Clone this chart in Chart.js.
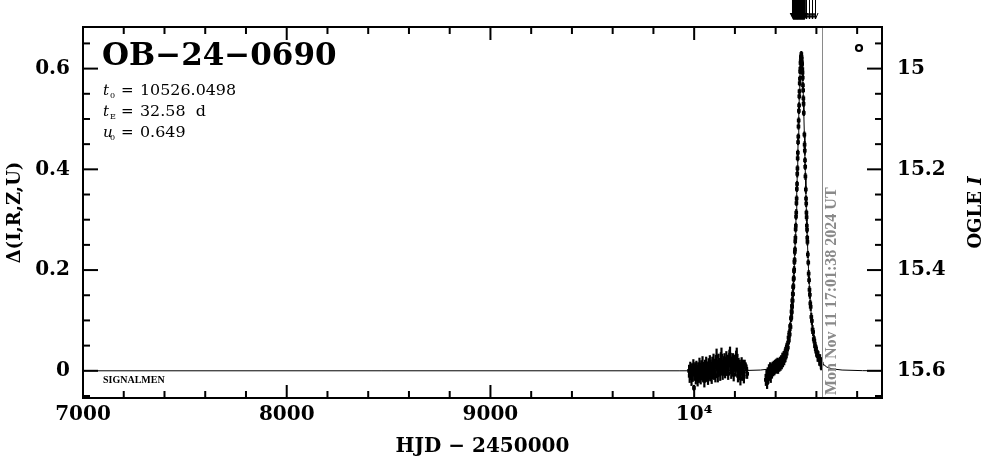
<!DOCTYPE html>
<html><head><meta charset="utf-8">
<script src="https://cdn.jsdelivr.net/npm/chart.js@4.4.1/dist/chart.umd.min.js"></script>
<style>html,body{margin:0;padding:0;background:#fff}#wrap{width:986px;height:459px;position:relative}</style>
</head><body><div id="wrap"><canvas id="c"></canvas></div>
<script>
// ---- axis ticks ----
const xTicks = [7000, 8000, 9000, 10000];
const xTickLabels = ['7000', '8000', '9000', '10\u2074'];
const xMinorTicks = [7200,7400,7600,7800,8200,8400,8600,8800,9200,9400,9600,9800,10200,10400,10600,10800];
const yTicks = [0, 0.2, 0.4, 0.6];
const yTickLabels = ['0', '0.2', '0.4', '0.6'];
const yMinorTicks = [-0.05,0.05,0.1,0.15,0.25,0.3,0.35,0.45,0.5,0.55,0.65];
const magTicks = [15, 15.2, 15.4, 15.6];
const magTickLabels = ['15', '15.2', '15.4', '15.6'];
const magMinorTicks = [14.95,15.05,15.1,15.15,15.25,15.3,15.35,15.45,15.5,15.55,15.65];

// ---- labels ----
const eventName = 'OB\u221224\u22120690';
const paramT0 = '10526.0498';
const paramTE = '32.58';
const paramU0 = '0.649';
const nowLabel = 'Mon Nov 11 17:01:38 2024 UT';
const nowT = 10627;

// ---- season 1 (HJD-2450000, delta, error) ----
const season1T = [9975,9978,9981,9984,9987,9990,9993,9996,9999,10002,
 10005,10008,10011,10014,10017,10020,10023,10026,10029,10032,
 10035,10038,10041,10044,10047,10050,10053,10056,10059,10062,
 10065,10068,10071,10074,10077,10080,10083,10086,10089,10092,
 10095,10098,10101,10104,10107,10110,10113,10116,10119,10122,
 10125,10128,10131,10134,10137,10140,10143,10146,10149,10152,
 10155,10158,10161,10164,10167,10170,10173,10176,10179,10182,
 10185,10188,10191,10194,10197,10200,10203,10206,10209,10212,
 10215,10218,10221,10224,10227,10230,10233,10236,10240,10244,
 10248,10252,10256,10260];
const season1D = [0.000,-0.010,0.006,-0.004,-0.015,0.003,-0.008,0.010,-0.034,-0.006,
 0.004,-0.012,0.008,-0.003,-0.018,0.005,-0.009,0.012,-0.002,-0.014,
 0.007,-0.006,0.014,-0.010,0.002,-0.020,0.010,-0.004,0.015,-0.008,
 0.004,-0.016,0.011,-0.002,0.018,-0.007,0.006,-0.013,0.013,0.000,
 0.020,-0.005,0.009,-0.011,0.016,0.028,0.004,-0.009,0.019,0.002,
 0.012,-0.006,0.022,0.030,0.008,-0.004,0.017,0.005,0.021,-0.002,
 0.014,0.024,0.003,0.018,-0.006,0.012,0.027,0.032,0.010,-0.003,
 0.016,0.006,0.020,-0.008,0.011,0.018,0.002,0.025,0.030,0.008,
 -0.010,0.012,-0.004,0.009,-0.015,0.005,0.014,-0.006,0.010,-0.012,
 0.012,0.008,0.004,-0.006];
const season1E = [0.012,0.014,0.012,0.013,0.015,0.012,0.014,0.013,0.006,0.014,
 0.013,0.015,0.012,0.014,0.013,0.012,0.015,0.014,0.012,0.013,
 0.014,0.013,0.015,0.012,0.014,0.013,0.012,0.015,0.013,0.014,
 0.013,0.012,0.014,0.015,0.013,0.014,0.012,0.013,0.015,0.014,
 0.014,0.013,0.015,0.012,0.014,0.016,0.013,0.014,0.015,0.012,
 0.013,0.014,0.015,0.016,0.013,0.014,0.012,0.015,0.014,0.013,
 0.014,0.015,0.013,0.014,0.012,0.013,0.015,0.016,0.014,0.013,
 0.013,0.014,0.015,0.013,0.012,0.014,0.013,0.015,0.016,0.014,
 0.013,0.014,0.012,0.013,0.014,0.012,0.013,0.014,0.012,0.013,
 0.010,0.009,0.009,0.010];

// ---- season 2 (event) ----
const season2T = [10352,10355,10358,10361,10364,10367,10370,10373,10376,10379,
 10382,10385,10388,10391,10394,10397,10400,10403,10406,10409,
 10412,10415,10418,10421,10424,10427,10430,10433,10436,10439,
 10442,10445,10448,10451,10454,10457,10460,10463,10465,10467,
 10469,10471,10473,10475,10477,10478,10479,10480,10481,10482,
 10483,10484,10485,10486,10487,10488,10489,10490,10491,10492,
 10493,10494,10495,10496,10497,10498,10499,10500,10501,10502,
 10503,10504,10505,10506,10507,10508,10509,10510,10511,10512,
 10513,10514,10515,10516,10517,10518,10519,10520,10521,10522,
 10523,10524,10525,10526,10527,10528,10529,10530,10531,10532,
 10533,10534,10535,10536,10537,10538,10541,10542,10543,10544,
 10545,10546,10548,10549,10550,10551,10552,10553,10554,10555,
 10556,10558,10560,10562,10564,10566,10568,10570,10572,10575,
 10578,10581,10584,10587,10590,10593,10596,10599,10602,10606,
 10610,10614,10618,10622,10624,10626];
const season2D = [-0.018,-0.010,-0.024,-0.004,-0.014,0.002,-0.008,0.006,-0.012,0.004,
 -0.004,0.008,0.000,0.010,0.002,0.012,0.004,0.014,0.006,0.016,
 0.004,0.016,0.008,0.019,0.010,0.022,0.012,0.026,0.016,0.030,
 0.020,0.036,0.026,0.044,0.034,0.052,0.046,0.066,0.060,0.076,
 0.072,0.089,0.087,0.104,0.106,0.118,0.116,0.129,0.127,0.140,
 0.139,0.153,0.152,0.166,0.168,0.182,0.184,0.198,0.201,0.216,
 0.220,0.236,0.241,0.257,0.264,0.281,0.288,0.306,0.314,0.333,
 0.342,0.361,0.371,0.391,0.402,0.422,0.433,0.454,0.465,0.485,
 0.497,0.516,0.527,0.545,0.555,0.571,0.580,0.594,0.600,0.611,
 0.615,0.622,0.624,0.629,0.623,0.620,0.613,0.609,0.599,0.592,
 0.582,0.567,0.557,0.541,0.530,0.512,0.469,0.449,0.437,0.418,
 0.405,0.386,0.360,0.342,0.332,0.314,0.305,0.288,0.280,0.264,
 0.256,0.231,0.215,0.193,0.180,0.161,0.151,0.134,0.127,0.107,
 0.099,0.082,0.077,0.063,0.060,0.049,0.048,0.038,0.038,0.029,
 0.029,0.021,0.022,0.015,0.012,0.014];
const season2E = [0.012,0.013,0.012,0.011,0.012,0.011,0.012,0.011,0.012,0.011,
 0.011,0.010,0.011,0.010,0.011,0.010,0.010,0.010,0.011,0.010,
 0.010,0.009,0.010,0.009,0.010,0.009,0.009,0.010,0.009,0.009,
 0.009,0.008,0.009,0.008,0.009,0.008,0.008,0.009,0.008,0.008,
 0.008,0.007,0.008,0.007,0.008,0.007,0.007,0.008,0.007,0.007,
 0.007,0.007,0.006,0.007,0.007,0.006,0.007,0.006,0.007,0.006,
 0.006,0.007,0.006,0.006,0.007,0.006,0.006,0.006,0.007,0.006,
 0.006,0.006,0.006,0.007,0.006,0.006,0.006,0.006,0.006,0.006,
 0.006,0.006,0.006,0.006,0.005,0.006,0.006,0.005,0.006,0.006,
 0.005,0.006,0.005,0.006,0.005,0.006,0.005,0.006,0.006,0.005,
 0.006,0.006,0.005,0.006,0.006,0.006,0.006,0.007,0.006,0.006,
 0.006,0.007,0.006,0.006,0.007,0.006,0.007,0.006,0.007,0.006,
 0.007,0.007,0.006,0.007,0.007,0.007,0.008,0.007,0.008,0.008,
 0.008,0.009,0.008,0.009,0.009,0.010,0.009,0.010,0.010,0.011,
 0.010,0.011,0.011,0.012,0.011,0.012];

// ---- model curve ----
const modelT = [7000,9926,10226,10326,10376,10401,10426,10441,10446,10451,10456,10461,10466,10471,10476,10481,10486,10491,10496,
 10498.5,10501,10503.5,10506,10508.5,10511,10513.5,10516,10518.5,10521,10523.5,10526,
 10528.5,10531,10533.5,10536,10538.5,10541,10543.5,10546,10548.5,10551,10553.5,10556,
 10561,10566,10571,10576,10581,10586,10591,10596,10601,10606,10611,10626,10651,10676,10726,10826,10922];
const modelD = [0,0,0.0003,0.0015,0.0039,0.0074,0.0157,0.0261,0.0314,0.0377,0.046,0.0558,0.0684,0.0844,0.1046,0.1304,0.1629,0.2038,0.2545,
 0.2840,0.3162,0.3510,0.3883,0.4273,0.4670,0.5062,0.5430,0.5753,0.6006,0.6170,0.6225,
 0.6170,0.6006,0.5753,0.5430,0.5062,0.4670,0.4273,0.3883,0.3510,0.3162,0.2840,0.2545,
 0.2038,0.1629,0.1304,0.1046,0.0844,0.0684,0.0558,0.046,0.0377,0.0314,0.0261,0.0157,0.0074,0.0039,0.0015,0.0003,0];

// ---- observation arrows above the frame ----
const arrowFilledT = [10486,10488,10490,10492,10494,10496,10498,10500,10502,10504,10506,10508,10510,10512,10514,10516,10518,10520,10522,10524,10526,10528,10530,10532,10534,10536,10538,10540,10542];
const arrowOpenT = [10547,10566,10579,10592];

const FONT = '"DejaVu Serif", serif';
const pts = (T, D) => T.map((t, i) => ({x: t, y: D[i]}));

const pgPlugin = {
  id: 'pg',
  beforeDatasetsDraw(chart) {
    const {ctx, chartArea: a, scales: {x, y}} = chart;
    ctx.save();
    ctx.beginPath(); ctx.rect(a.left, a.top, a.right - a.left, a.bottom - a.top); ctx.clip();
    ctx.strokeStyle = '#000'; ctx.lineWidth = 2.2;
    const bars = (T, D, E) => {
      for (let i = 0; i < T.length; i++) {
        const px = x.getPixelForValue(T[i]);
        ctx.beginPath();
        ctx.moveTo(px, y.getPixelForValue(D[i] - E[i]));
        ctx.lineTo(px, y.getPixelForValue(D[i] + E[i]));
        ctx.stroke();
      }
    };
    bars(season1T, season1D, season1E);
    bars(season2T, season2D, season2E);
    ctx.restore();
  },
  afterDraw(chart) {
    const {ctx, chartArea: a, scales: {x, y, y2}} = chart;
    ctx.save();
    // current-time line
    const nx = Math.round(x.getPixelForValue(nowT)) + 0.5;
    ctx.strokeStyle = '#8a8a8a'; ctx.lineWidth = 1;
    ctx.beginPath(); ctx.moveTo(nx, a.top); ctx.lineTo(nx, a.bottom); ctx.stroke();
    ctx.save();
    ctx.translate(nx + 9, a.bottom - 3); ctx.rotate(-Math.PI / 2);
    ctx.fillStyle = '#8a8a8a'; ctx.font = 'bold 16px "Liberation Serif", serif';
    ctx.textAlign = 'left'; ctx.textBaseline = 'middle';
    ctx.fillText(nowLabel, 0, 0);
    ctx.restore();

    // frame
    ctx.strokeStyle = '#000'; ctx.lineWidth = 2;
    ctx.strokeRect(a.left, a.top, a.right - a.left, a.bottom - a.top);
    // ticks
    ctx.lineWidth = 2;
    const vt = (v, len) => { const p = x.getPixelForValue(v);
      ctx.beginPath(); ctx.moveTo(p, a.bottom); ctx.lineTo(p, a.bottom - len);
      ctx.moveTo(p, a.top); ctx.lineTo(p, a.top + len); ctx.stroke(); };
    xTicks.forEach(v => vt(v, 13)); xMinorTicks.forEach(v => vt(v, 7));
    const lt = (v, len) => { const p = y.getPixelForValue(v);
      ctx.beginPath(); ctx.moveTo(a.left, p); ctx.lineTo(a.left + len, p); ctx.stroke(); };
    yTicks.forEach(v => lt(v, 15)); yMinorTicks.forEach(v => lt(v, 7));
    const rt = (v, len) => { const p = y2.getPixelForValue(v);
      ctx.beginPath(); ctx.moveTo(a.right, p); ctx.lineTo(a.right - len, p); ctx.stroke(); };
    magTicks.forEach(v => rt(v, 15)); magMinorTicks.forEach(v => rt(v, 7));

    // arrows above frame
    ctx.fillStyle = '#000'; ctx.strokeStyle = '#000';
    arrowFilledT.forEach(t => { const p = x.getPixelForValue(t);
      ctx.fillRect(p - 1.2, 0, 2.4, 14);
      ctx.beginPath(); ctx.moveTo(p - 3.5, 13); ctx.lineTo(p + 3.5, 13); ctx.lineTo(p, 20); ctx.closePath(); ctx.fill(); });
    ctx.lineWidth = 1;
    arrowOpenT.forEach(t => { const p = Math.round(x.getPixelForValue(t)) + 0.5;
      ctx.beginPath(); ctx.moveTo(p, 0); ctx.lineTo(p, 19);
      ctx.moveTo(p - 2.5, 13); ctx.lineTo(p, 19); ctx.lineTo(p + 2.5, 13); ctx.stroke(); });

    // small circle marker
    ctx.lineWidth = 2.2;
    ctx.beginPath(); ctx.arc(859, 48, 3, 0, Math.PI * 2); ctx.stroke();

    // event name
    ctx.fillStyle = '#000'; ctx.textAlign = 'left'; ctx.textBaseline = 'alphabetic';
    ctx.font = 'bold 31px ' + FONT;
    ctx.fillText(eventName, 102, 65);

    // parameters
    const param = (sym, sub, val, base) => {
      ctx.font = 'italic 15px ' + FONT; ctx.fillText(sym, 103, base);
      ctx.font = '8px ' + FONT; ctx.fillText(sub, 110, base + 3);
      ctx.font = '15px ' + FONT; ctx.fillText('=', 121, base);
      ctx.save(); ctx.translate(140, base); ctx.scale(1.06, 1);
      ctx.fillText(val, 0, 0); ctx.restore();
    };
    param('t', '0', paramT0, 95);
    param('t', 'E', paramTE + '  d', 116);
    param('u', '0', paramU0, 137);

    ctx.font = 'bold 10px "Liberation Serif", serif';
    ctx.fillText('SIGNALMEN', 103, 383);

    // axis titles
    ctx.textAlign = 'center'; ctx.textBaseline = 'middle';
    ctx.font = 'bold 20px ' + FONT;
    ctx.fillText('HJD \u2212 2450000', (a.left + a.right) / 2, 447);
    ctx.save(); ctx.translate(15, (a.top + a.bottom) / 2); ctx.rotate(-Math.PI / 2);
    ctx.font = 'bold 18px ' + FONT; ctx.fillText('\u0394(I,R,Z,U)', 0, 0); ctx.restore();
    ctx.save(); ctx.translate(976, (a.top + a.bottom) / 2); ctx.rotate(-Math.PI / 2);
    ctx.font = 'bold 18px ' + FONT; const w1 = ctx.measureText('OGLE ').width;
    ctx.font = 'bold italic 18px ' + FONT; const w2 = ctx.measureText('I').width;
    ctx.textAlign = 'left';
    ctx.font = 'bold 18px ' + FONT; ctx.fillText('OGLE ', -(w1 + w2) / 2, 0);
    ctx.font = 'bold italic 18px ' + FONT; ctx.fillText('I', -(w1 + w2) / 2 + w1, 0);
    ctx.restore();
    ctx.restore();
  }
};

const tickFont = {family: 'DejaVu Serif', weight: 'bold', size: 20};
new Chart(document.getElementById('c'), {
  type: 'scatter',
  data: {
    datasets: [
      {data: pts(modelT, modelD), showLine: true, borderColor: '#000', borderWidth: 1, pointRadius: 0, tension: 0, xAxisID: 'x', yAxisID: 'y'},
      {data: pts(season1T, season1D), pointStyle: 'rect', pointRadius: 2.6, backgroundColor: '#000', borderWidth: 0, xAxisID: 'x', yAxisID: 'y'},
      {data: pts(season2T, season2D), pointStyle: 'rect', pointRadius: 2.6, backgroundColor: '#000', borderWidth: 0, xAxisID: 'x', yAxisID: 'y'}
    ]
  },
  options: {
    responsive: true, maintainAspectRatio: false, animation: false, events: [],
    layout: {padding: {top: 26, left: 0, right: 0, bottom: 0}},
    plugins: {legend: {display: false}, tooltip: {enabled: false}},
    scales: {
      x: {type: 'linear', position: 'bottom', min: 7000, max: 10922,
        afterBuildTicks: s => { s.ticks = xTicks.map(v => ({value: v})); },
        afterFit: s => { s.height = 61; },
        grid: {display: false, drawTicks: false}, border: {display: false},
        ticks: {autoSkip: false, maxRotation: 0, padding: 5, color: '#000', font: tickFont,
          callback: v => xTickLabels[xTicks.indexOf(v)]}},
      y: {type: 'linear', position: 'left', min: -0.054, max: 0.6826,
        afterBuildTicks: s => { s.ticks = yTicks.map(v => ({value: v})); },
        afterFit: s => { s.width = 83; },
        grid: {display: false, drawTicks: false}, border: {display: false},
        ticks: {autoSkip: false, padding: 13, color: '#000', font: tickFont,
          callback: v => yTickLabels[yTicks.indexOf(v)]}},
      y2: {type: 'linear', position: 'right', display: true, reverse: true, min: 14.9174, max: 15.654,
        afterBuildTicks: s => { s.ticks = magTicks.map(v => ({value: v})); },
        afterFit: s => { s.width = 104; },
        grid: {display: false, drawTicks: false}, border: {display: false},
        ticks: {autoSkip: false, padding: 15, color: '#000', font: tickFont,
          callback: v => magTickLabels[magTicks.indexOf(v)]}}
    }
  },
  plugins: [pgPlugin]
});
</script>
</body></html>
